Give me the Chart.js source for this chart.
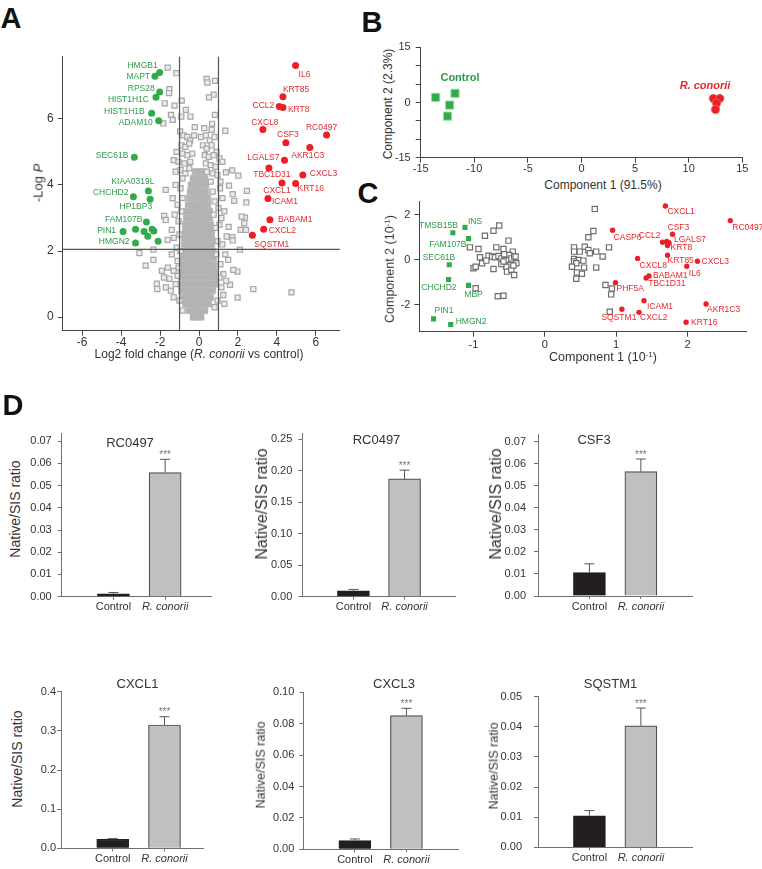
<!DOCTYPE html>
<html lang="en">
<head>
<meta charset="UTF-8" />
<title>R. conorii proteomics figure</title>
<script src="https://cdn.jsdelivr.net/npm/chart.js"></script>
<style>
    * { box-sizing: border-box; margin: 0; padding: 0; }
    body {
        width: 762px;
        height: 869px;
        position: relative;
        overflow: hidden;
        background: #fff;
        color: #333;
        font-family: "Liberation Sans", Arial, Helvetica, sans-serif;
    }
    canvas { position: absolute; }
    .t {
        position: absolute;
        transform: translate(-50%, -50%);
        white-space: nowrap;
        line-height: 1;
    }
    .rot { transform: translate(-50%, -50%) rotate(-90deg); }
    .panel { font-size: 29px; font-weight: bold; color: #111; }
    sup { font-size: 0.65em; vertical-align: 0.45em; }
</style>
</head>
<body>
<script>
// ---------- data: panel A (volcano) ----------
const upNames = ['IL6', 'KRT85', 'CCL2', 'KRT8', 'CXCL8', 'RC0497', 'CSF3', 'AKR1C3', 'LGALS7',
                 'TBC1D31', 'CXCL3', 'CXCL1', 'KRT16', 'ICAM1', 'BABAM1', 'CXCL2', 'SQSTM1'];
const upFold = [4.96, 4.31, 4.12, 4.31, 3.28, 6.55, 4.46, 5.69, 4.39, 3.59, 5.33, 4.26, 4.96, 3.54, 3.64, 3.32, 2.74];
const upLogP = [7.61, 6.67, 6.37, 6.34, 5.68, 5.51, 5.28, 5.13, 4.75, 4.51, 4.30, 4.06, 4.04, 3.59, 2.95, 2.66, 2.48];

const downNames = ['HMGB1', 'MAPT', 'RPS28', 'HIST1H1C', 'HIST1H1B', 'ADAM10', 'SEC61B', 'KIAA0319L',
                   'CHCHD2', 'HP1BP3', 'FAM107B', 'PIN1', 'HMGN2', '', '', '', '', '', ''];
const downFold = [-2.02, -2.26, -2.02, -2.21, -2.43, -2.07, -3.32, -2.60, -3.37, -2.51, -2.70, -3.90, -3.26,
                  -3.26, -2.82, -2.41, -2.32, -2.63, -2.10];
const downLogP = [7.40, 7.29, 6.81, 6.65, 6.17, 5.94, 4.84, 3.82, 3.64, 3.57, 2.88, 2.59, 2.24,
                  2.66, 2.59, 2.66, 2.61, 2.45, 2.30];

// dense centre of the cloud: [logP, [fold changes]]
const grayCoreRows = [
    [0.0, [-0.3, -0.1, 0.1]],
    [0.2, [-0.5, -0.3, -0.1, 0.1, 0.3]],
    [0.4, [-0.7, -0.5, -0.3, -0.1, 0.1, 0.3, 0.5]],
    [0.6, [-0.8, -0.6, -0.4, -0.2, 0.0, 0.2, 0.4, 0.6]],
    [0.8, [-0.9, -0.7, -0.5, -0.3, -0.1, 0.1, 0.3, 0.5, 0.7]],
    [1.0, [-0.95, -0.75, -0.55, -0.35, -0.15, 0.05, 0.25, 0.45, 0.65, 0.85]],
    [1.2, [-0.9, -0.7, -0.5, -0.3, -0.1, 0.1, 0.3, 0.5, 0.7, 0.85]],
    [1.4, [-0.9, -0.7, -0.5, -0.3, -0.1, 0.1, 0.3, 0.5, 0.7, 0.8]],
    [1.6, [-0.85, -0.65, -0.45, -0.25, -0.05, 0.15, 0.35, 0.55, 0.75]],
    [1.8, [-0.8, -0.6, -0.4, -0.2, 0.0, 0.2, 0.4, 0.6, 0.75]],
    [2.0, [-0.8, -0.6, -0.4, -0.2, 0.0, 0.2, 0.4, 0.6, 0.7]],
    [2.2, [-0.75, -0.55, -0.35, -0.15, 0.05, 0.25, 0.45, 0.65]],
    [2.4, [-0.75, -0.55, -0.35, -0.15, 0.05, 0.25, 0.45, 0.65]],
    [2.6, [-0.7, -0.5, -0.3, -0.1, 0.1, 0.3, 0.5, 0.65]],
    [2.8, [-0.7, -0.5, -0.3, -0.1, 0.1, 0.3, 0.5, 0.6]],
    [3.0, [-0.65, -0.45, -0.25, -0.05, 0.15, 0.35, 0.55]],
    [3.2, [-0.6, -0.4, -0.2, 0.0, 0.2, 0.4, 0.55]],
    [3.4, [-0.55, -0.35, -0.15, 0.05, 0.25, 0.45]],
    [3.6, [-0.5, -0.3, -0.1, 0.1, 0.3, 0.45]],
    [3.8, [-0.45, -0.25, -0.05, 0.15, 0.35]],
    [4.0, [-0.4, -0.2, 0.0, 0.2, 0.35]],
    [4.2, [-0.3, -0.1, 0.1, 0.3]],
    [4.4, [-0.2, 0.0, 0.2]]
];
// scattered proteins around the cloud: [fold, logP]
const grayOuter = [
    [-1.61, 7.55], [-1.16, 7.38], [0.39, 7.21], [0.82, 7.15], [0.43, 7.10], [-1.52, 6.90], [-1.54, 6.78],
    [0.75, 6.73], [0.51, 6.65], [-0.89, 6.55], [-1.76, 6.47], [-1.26, 6.40], [-0.68, 6.27], [-1.44, 6.12],
    [-0.91, 6.07], [0.82, 6.12], [-0.44, 6.07], [-1.83, 5.86], [-1.35, 5.97], [0.67, 5.85], [-0.22, 5.75],
    [0.27, 5.72], [1.35, 5.64], [0.65, 5.67], [-0.97, 5.62],
    [-0.8, 5.5], [-0.6, 5.45], [-0.45, 5.35], [-0.25, 5.5], [0.1, 5.45], [0.35, 5.5], [0.55, 5.35], [0.8, 5.45],
    [-0.9, 5.2], [-0.7, 5.15], [-0.5, 5.25], [0.2, 5.2], [0.4, 5.1], [0.65, 5.2], [0.9, 5.0], [-1.15, 5.0],
    [-0.85, 4.95], [-0.6, 4.9], [-0.35, 4.95], [0.3, 4.9], [0.5, 4.85], [0.75, 4.9], [1.05, 4.8], [1.2, 4.7],
    [-1.3, 4.75], [-1.05, 4.7], [-0.75, 4.65], [-0.45, 4.7], [0.35, 4.65], [0.6, 4.6], [0.85, 4.55],
    [-1.2, 4.4], [-0.95, 4.45], [-0.7, 4.35], [-0.5, 4.5], [0.4, 4.4], [0.7, 4.35], [0.95, 4.3],
    [1.38, 4.38], [1.71, 4.44], [2.02, 4.28], [1.54, 3.98], [1.08, 3.90], [2.46, 3.82], [1.73, 3.72],
    [1.81, 3.52], [2.43, 3.47], [2.36, 3.01], [2.19, 3.04], [2.32, 2.84], [1.52, 2.73], [2.14, 2.64],
    [2.41, 2.64], [1.42, 2.44], [1.71, 2.42], [1.73, 2.32], [2.10, 2.04], [1.50, 1.73], [1.97, 1.38],
    [1.76, 1.43], [1.59, 0.98], [2.79, 0.85], [1.98, 0.59], [4.75, 0.75], [1.25, 0.67], [1.1, 4.1],
    [1.2, 3.6], [1.0, 3.3], [1.15, 3.0], [1.3, 3.2], [1.05, 2.8], [1.2, 2.2], [1.35, 1.9], [1.1, 1.6],
    [1.25, 1.3], [1.4, 1.1], [1.05, 1.2], [1.15, 0.9], [0.95, 0.5], [1.3, 0.4], [0.8, 0.3],
    [-3.06, 1.94], [-2.74, 1.56], [-2.34, 1.73], [-2.34, 2.04], [-2.17, 1.01], [-2.14, 0.85], [-1.91, 1.40],
    [-1.79, 3.06], [-1.71, 2.94], [-1.71, 3.85], [-1.40, 2.64], [-1.61, 2.34], [-1.52, 1.16], [-1.2, 4.0],
    [-1.35, 3.6], [-1.1, 3.4], [-1.25, 3.1], [-1.05, 2.9], [-1.3, 2.4], [-1.15, 2.1], [-1.4, 1.9],
    [-1.1, 1.7], [-1.6, 1.5], [-1.3, 1.4], [-1.2, 1.0], [-1.45, 0.8], [-1.7, 0.9], [-1.0, 0.5],
    [-1.3, 0.6], [-0.85, 0.2], [-1.1, 1.25], [-1.8, 1.2],
    [-0.85, 4.2], [-0.95, 3.9], [-0.85, 3.6], [-0.9, 3.2], [0.6, 4.1], [0.7, 3.8], [0.8, 3.5],
    [0.75, 3.1], [0.85, 2.7], [0.95, 2.3], [0.9, 1.9], [-1.0, 2.5], [-0.95, 2.0], [-1.05, 1.5]
];
const foldCutoffs = [-1, 1];
const pCutoff = 2.05;
const volcanoXTicks = [-6, -4, -2, 0, 2, 4, 6];
const volcanoYTicks = [0, 2, 4, 6];

// ---------- data: panel B (PCA, samples) ----------
const pcaControlX = [-13.6, -11.8, -12.3, -12.5];
const pcaControlY = [1.4, 2.5, -0.7, -3.7];
const pcaConoriiX = [12.3, 12.9, 12.6, 12.5];
const pcaConoriiY = [1.1, 1.1, -0.2, -1.9];
const pcaXTicks = [-15, -10, -5, 0, 5, 10, 15];
const pcaYTicks = [-15, -10, -5, 0, 5, 10, 15];
const pcaYLabelled = [-15, 0, 15];

// ---------- data: panel C (loadings) ----------
const loadDownNames = ['TMSB15B', 'INS', 'FAM107B', 'SEC61B', 'CHCHD2', 'MBP', 'PIN1', 'HMGN2'];
const loadDownX = [-1.29, -1.12, -1.07, -1.34, -1.35, -1.07, -1.56, -1.32];
const loadDownY = [1.21, 1.45, 0.95, -0.21, -0.87, -1.13, -2.62, -2.87];
const loadUpNames = ['CXCL1', 'RC0497', 'CASP6', 'CSF3', 'CCL2', '', 'LGALS7', 'KRT8', 'KRT85', 'CXCL3',
                     'IL6', 'CXCL8', 'BABAM1', 'TBC1D31', 'PHF5A', 'ICAM1', 'AKR1C3', 'SQSTM1', 'CXCL2', 'KRT16'];
const loadUpX = [1.69, 2.60, 0.95, 1.79, 1.65, 1.71, 1.74, 1.72, 1.72, 2.14,
                 1.99, 1.30, 1.46, 1.42, 0.99, 1.39, 2.26, 1.08, 1.32, 1.98];
const loadUpY = [2.40, 1.75, 1.32, 1.14, 0.79, 0.82, 0.77, 0.64, 0.21, -0.06,
                 -0.28, 0.07, -0.71, -0.80, -1.01, -1.81, -1.96, -2.19, -2.33, -2.77];
const loadGray = [
    [-1.05, 0.56], [-0.93, 0.49], [-0.84, 1.08], [-0.72, 1.30], [-0.64, 1.53], [-0.51, 0.86], [-0.91, 0.12],
    [-0.79, 0.19], [-0.68, 0.56], [-0.58, 0.49], [-0.45, 0.37], [-1.00, -0.37], [-0.97, -0.30], [-0.88, -0.15],
    [-0.82, -0.03], [-0.74, 0.15], [-0.70, 0.12], [-0.65, 0.18], [-0.61, 0.07], [-0.56, 0.15], [-0.54, 0.00],
    [-0.50, 0.22], [-0.47, 0.07], [-0.43, 0.15], [-0.41, 0.15], [-0.40, -0.15], [-0.49, -0.22], [-0.54, -0.30],
    [-0.53, -0.52], [-0.47, -0.44], [-0.43, -0.67], [-0.72, -0.40], [-0.61, -0.18], [-0.58, -0.07],
    [-0.97, -1.26], [-0.66, -1.61], [-0.58, -1.59], [-0.44, -0.25], [-0.57, 0.25],
    [0.70, 2.27], [0.68, 1.29], [0.61, 1.01], [0.41, 0.56], [0.41, 0.37], [0.56, 0.59], [0.61, 0.44],
    [0.72, 0.37], [0.90, 0.56], [0.81, 0.15], [0.41, 0.04], [0.47, 0.00], [0.54, -0.03], [0.41, -0.07],
    [0.44, -0.15], [0.38, -0.30], [0.55, -0.34], [0.72, -0.34], [0.45, -0.56], [0.52, -0.61], [0.44, -0.84],
    [0.85, -1.11], [0.94, -1.27], [0.93, -1.53], [0.91, -2.30], [0.49, 0.37], [0.63, 0.30]
];
const loadXTicks = [-1, 0, 1, 2];
const loadYTicks = [-2, 0, 2];

// ---------- data: panel D (targeted quantification) ----------
const dGenes = ['RC0497', 'RC0497', 'CSF3', 'CXCL1', 'CXCL3', 'SQSTM1'];
const dCategories = ['Control', 'R. conorii'];
const dControl = [0.0013, 0.0095, 0.0106, 0.023, 0.0055, 0.0105];
const dControlErr = [0.0006, 0.0021, 0.0040, 0.0017, 0.0011, 0.0017];
const dConorii = [0.0558, 0.187, 0.0565, 0.315, 0.0851, 0.0403];
const dConoriiErr = [0.0060, 0.014, 0.0057, 0.021, 0.0047, 0.0059];
const dSignif = ['***', '***', '***', '***', '***', '***'];
const dYTicks = [
    [0, 0.01, 0.02, 0.03, 0.04, 0.05, 0.06, 0.07],
    [0, 0.05, 0.10, 0.15, 0.20, 0.25],
    [0, 0.01, 0.02, 0.03, 0.04, 0.05, 0.06, 0.07],
    [0, 0.1, 0.2, 0.3, 0.4],
    [0, 0.02, 0.04, 0.06, 0.08, 0.10],
    [0, 0.01, 0.02, 0.03, 0.04, 0.05]
];
const dDecimals = [2, 2, 2, 1, 2, 2];
const dYMax = [0.0735, 0.2595, 0.0733, 0.4, 0.10, 0.05];

// ---------- look ----------
const FONT = '"Liberation Sans", Arial, Helvetica, sans-serif';
const RED = '#ec1f26';
const GREEN = '#2fab4a';
const RED_TXT = '#e8262d';
const GREEN_TXT = '#2a9b47';
Chart.defaults.font.family = FONT;
Chart.defaults.color = '#333';

// label offsets in px from the point: [dx, dy, align]
const upLabelPos = [[3, 9, 'left'], [0, -7, 'left'], [-5, -1, 'right'], [5, 2, 'left'], [2, -7, 'center'],
    [-5, -7, 'center'], [2, -8, 'center'], [-2, 8, 'center'], [-5, -2, 'right'], [3, 7, 'center'],
    [7, -1, 'left'], [-5, 8, 'center'], [2, 5, 'left'], [4, 3, 'left'], [8, 0, 'left'], [5, 1, 'left'], [2, 9, 'left']];
const downLabelPos = [[-2, -7, 'right'], [-5, 0, 'right'], [-5, -3, 'right'], [-7, 2, 'right'], [-7, -2, 'right'],
    [-6, 2, 'right'], [-6, -2, 'right'], [6, -9, 'right'], [-5, -4, 'right'], [2, 8, 'right'], [-4, -2, 'right'],
    [-7, -1, 'right'], [-6, -1, 'right'], null, null, null, null, null, null];
const loadDownLabelPos = [[5, -7, 'right'], [3, -6, 'left'], [-2, 6, 'right'], [6, -7, 'right'], [8, 8, 'right'],
    [5, 9, 'center'], [1, -8, 'left'], [5, -3, 'left']];
const loadUpLabelPos = [[2, 6, 'left'], [2, 7, 'left'], [1, 7, 'left'], [-5, -7, 'left'], [-2, -7, 'right'], null,
    [5, -3, 'left'], [3, 2, 'left'], [0, 5, 'left'], [4, 0, 'left'], [2, 7, 'left'], [2, 7, 'left'], [4, 0, 'left'],
    [2, 6, 'left'], [1, 6, 'left'], [3, 6, 'left'], [1, 6, 'left'], [-3, 8, 'center'], [1, 5, 'left'], [5, 0, 'left']];

// ---------- helpers ----------
function addCanvas(left, top, w, h) {
    const c = document.createElement('canvas');
    c.width = w; c.height = h;
    c.style.left = left + 'px'; c.style.top = top + 'px';
    c.style.width = w + 'px'; c.style.height = h + 'px';
    document.body.appendChild(c);
    return c;
}

function addText(x, y, html, css, rotated) {
    const d = document.createElement('div');
    d.className = 't' + (rotated ? ' rot' : '');
    d.style.left = x + 'px';
    d.style.top = y + 'px';
    d.style.cssText += css || '';
    d.innerHTML = html;
    document.body.appendChild(d);
    return d;
}

function linAxis(o) {
    return {
        type: 'linear', min: o.min, max: o.max, offset: false,
        afterBuildTicks: s => { s.ticks = o.ticks.map(v => ({ value: v })); },
        afterFit: s => { if (s.isHorizontal()) s.height = o.fit; else s.width = o.fit; },
        ticks: {
            autoSkip: false, maxRotation: 0, padding: o.pad, color: '#333',
            font: o.font || { size: o.size },
            callback: o.fmt || (v => String(v))
        },
        grid: { drawOnChartArea: false, drawTicks: true, tickLength: o.tickLen, color: o.color, offset: false },
        border: { display: true, color: o.color, width: 1 }
    };
}

function baseOptions(padTop, padRight) {
    return {
        responsive: false, animation: false, devicePixelRatio: 1, events: [],
        layout: { padding: { top: padTop, right: padRight, left: 0, bottom: 0 } },
        plugins: { legend: { display: false }, tooltip: { enabled: false } }
    };
}

const pointLabels = {
    id: 'pointLabels',
    afterDatasetsDraw(chart) {
        const ctx = chart.ctx;
        chart.data.datasets.forEach((ds, i) => {
            if (!ds.names) return;
            const meta = chart.getDatasetMeta(i);
            ctx.save();
            ctx.font = ds.labelFont;
            ctx.fillStyle = ds.labelColor;
            ctx.textBaseline = 'middle';
            meta.data.forEach((pt, j) => {
                const pos = ds.labelPos[j];
                if (!ds.names[j] || !pos) return;
                ctx.textAlign = pos[2];
                ctx.fillText(ds.names[j], pt.x + pos[0], pt.y + pos[1]);
            });
            ctx.restore();
        });
    }
};

const volcanoLines = {
    id: 'volcanoLines',
    afterDatasetsDraw(chart) {
        const { ctx, chartArea: a, scales: { x, y } } = chart;
        ctx.save();
        ctx.strokeStyle = '#555';
        ctx.lineWidth = 1.2;
        ctx.beginPath();
        foldCutoffs.forEach(v => {
            const px = x.getPixelForValue(v);
            ctx.moveTo(px, a.top); ctx.lineTo(px, a.bottom);
        });
        const py = y.getPixelForValue(pCutoff);
        ctx.moveTo(a.left, py); ctx.lineTo(a.right, py);
        ctx.stroke();
        ctx.restore();
    }
};

const errorBars = {
    id: 'errorBars',
    afterDatasetsDraw(chart) {
        const ds = chart.data.datasets[0];
        const meta = chart.getDatasetMeta(0);
        const y = chart.scales.y;
        const ctx = chart.ctx;
        ctx.save();
        ctx.strokeStyle = '#555';
        ctx.lineWidth = 1;
        meta.data.forEach((bar, j) => {
            const top = y.getPixelForValue(ds.data[j].y + ds.errors[j]);
            ctx.beginPath();
            ctx.moveTo(bar.x, bar.y); ctx.lineTo(bar.x, top);
            ctx.moveTo(bar.x - 5, top); ctx.lineTo(bar.x + 5, top);
            ctx.stroke();
            if (ds.stars[j]) {
                ctx.fillStyle = '#777';
                ctx.font = '10px ' + FONT;
                ctx.textAlign = 'center';
                ctx.textBaseline = 'alphabetic';
                ctx.fillText(ds.stars[j], bar.x, top - 1.5);
            }
        });
        ctx.restore();
    }
};

// ---------- panel A: volcano plot ----------
new Chart(addCanvas(0, 40, 345, 312), {
    type: 'scatter',
    data: {
        datasets: [
            {
                data: upFold.map((x, i) => ({ x, y: upLogP[i] })),
                names: upNames, labelPos: upLabelPos, labelColor: RED_TXT, labelFont: '8.5px ' + FONT,
                pointStyle: 'circle', pointRadius: 3.5, pointBackgroundColor: RED, pointBorderWidth: 0
            },
            {
                data: downFold.map((x, i) => ({ x, y: downLogP[i] })),
                names: downNames, labelPos: downLabelPos, labelColor: GREEN_TXT, labelFont: '8.5px ' + FONT,
                pointStyle: 'circle', pointRadius: 3.5, pointBackgroundColor: GREEN, pointBorderWidth: 0
            },
            {
                data: grayOuter.map(p => ({ x: p[0], y: p[1] })),
                pointStyle: 'rect', pointRadius: 3.6, pointBackgroundColor: '#ececec',
                pointBorderColor: '#a6a6a6', pointBorderWidth: 1.2
            },
            {
                data: grayCoreRows.flatMap(([y, xs]) => xs.map(x => ({ x, y }))),
                pointStyle: 'rect', pointRadius: 4.4, pointBackgroundColor: '#b3b3b3',
                pointBorderColor: '#b3b3b3', pointBorderWidth: 0.5
            }
        ]
    },
    options: {
        ...baseOptions(16.7, 5),
        scales: {
            x: linAxis({ min: -7.0, max: 7.23, ticks: volcanoXTicks, fit: 21.3, size: 12, pad: 0, tickLen: 5, color: '#444' }),
            y: linAxis({ min: -0.41, max: 7.88, ticks: volcanoYTicks, fit: 62.7, size: 12, pad: 4, tickLen: 5, color: '#444' })
        }
    },
    plugins: [volcanoLines, pointLabels]
});

addText(11, 17.5, 'A').classList.add('panel');
addText(38, 183, '-Log <i>P</i>', 'font-size:13px;', true);
addText(199, 354, 'Log2 fold change (<i>R. conorii</i> vs control)', 'font-size:12px;');

// ---------- panel B: sample PCA ----------
new Chart(addCanvas(395, 35, 362, 143), {
    type: 'scatter',
    data: {
        datasets: [
            {
                data: pcaConoriiX.map((x, i) => ({ x, y: pcaConoriiY[i] })),
                pointStyle: 'circle', pointRadius: 4.2, pointBackgroundColor: RED, pointBorderColor: '#f26a6f', pointBorderWidth: 0.8
            },
            {
                data: pcaControlX.map((x, i) => ({ x, y: pcaControlY[i] })),
                pointStyle: 'rect', pointRadius: 5.8, pointBackgroundColor: GREEN, pointBorderColor: '#9fd9a8', pointBorderWidth: 1
            }
        ]
    },
    options: {
        ...baseOptions(12.3, 14.7),
        scales: {
            x: linAxis({ min: -15, max: 15, ticks: pcaXTicks, fit: 20.3, size: 11, pad: 0, tickLen: 5, color: '#444' }),
            y: linAxis({ min: -15, max: 15, ticks: pcaYTicks, fit: 25.7, size: 11, pad: 5, tickLen: 5, color: '#444',
                         fmt: v => pcaYLabelled.includes(v) ? String(v) : '' })
        }
    }
});

addText(372, 22, 'B').classList.add('panel');
addText(388, 104, 'Component 2 (2.3%)', 'font-size:12px;', true);
addText(603, 185, 'Component 1 (91.5%)', 'font-size:12px;');
addText(460, 77, 'Control', 'font-size:11px;font-weight:bold;color:' + GREEN_TXT + ';');
addText(705, 85, 'R. conorii', 'font-size:11px;font-weight:bold;font-style:italic;color:' + RED_TXT + ';');

// ---------- panel C: protein loadings ----------
new Chart(addCanvas(395, 190, 367, 162), {
    type: 'scatter',
    data: {
        datasets: [
            {
                data: loadUpX.map((x, i) => ({ x, y: loadUpY[i] })),
                names: loadUpNames, labelPos: loadUpLabelPos, labelColor: RED_TXT, labelFont: '8.5px ' + FONT,
                pointStyle: 'circle', pointRadius: 2.7, pointBackgroundColor: RED, pointBorderWidth: 0
            },
            {
                data: loadDownX.map((x, i) => ({ x, y: loadDownY[i] })),
                names: loadDownNames, labelPos: loadDownLabelPos, labelColor: GREEN_TXT, labelFont: '8.5px ' + FONT,
                pointStyle: 'rect', pointRadius: 3.6, pointBackgroundColor: GREEN, pointBorderWidth: 0
            },
            {
                data: loadGray.map(p => ({ x: p[0], y: p[1] })),
                pointStyle: 'rect', pointRadius: 3.7, pointBackgroundColor: '#ffffff',
                pointBorderColor: '#6d6d6d', pointBorderWidth: 1.2
            }
        ]
    },
    options: {
        ...baseOptions(11.7, 16),
        scales: {
            x: linAxis({ min: -1.76, max: 2.82, ticks: loadXTicks, fit: 20.3, size: 11, pad: 2, tickLen: 5, color: '#444' }),
            y: linAxis({ min: -3.19, max: 2.59, ticks: loadYTicks, fit: 24.3, size: 11, pad: 4, tickLen: 5, color: '#444' })
        }
    },
    plugins: [pointLabels]
});

addText(368, 193, 'C').classList.add('panel');
addText(390, 269, 'Component 2 (10<sup>-1</sup>)', 'font-size:12.5px;', true);
addText(603, 357, 'Component 1 (10<sup>-1</sup>)', 'font-size:12.5px;');

// ---------- panel D: bar charts ----------
// canvas left, top, width, height, y-axis width, x-axis height, pad top, pad right, x max, y tick padding
const dBoxes = [
    [25, 420, 200, 192, 36.7, 15.3, 13.3, 13.3, 2.9, 6],
    [265, 420, 205, 192, 37.3, 15.3, 13.3, 14.3, 3.0, 6],
    [500, 420, 207, 192, 38, 16, 12.7, 14.7, 3.0, 8],
    [25, 678, 193, 188, 36, 17.7, 13.7, 14.7, 2.75, 1],
    [266, 678, 206, 188, 37.3, 16.7, 14.3, 14, 3.0, 5],
    [500, 678, 207, 188, 38, 17, 14.3, 14.7, 3.0, 12]
];
// title centre, y-title centre, y-title font size
const dTexts = [
    [130, 441.7, 15, 509, 14],
    [376.5, 439, 262, 504, 16],
    [594, 439.3, 496, 504, 16],
    [137.5, 683.3, 17, 759, 14],
    [394, 683.3, 261, 765, 12.5],
    [610.5, 683.3, 494, 766, 12.5]
];

dGenes.forEach((gene, i) => {
    const b = dBoxes[i];
    new Chart(addCanvas(b[0], b[1], b[2], b[3]), {
        type: 'bar',
        data: {
            datasets: [{
                data: [{ x: 1, y: dControl[i] }, { x: 2, y: dConorii[i] }],
                errors: [dControlErr[i], dConoriiErr[i]],
                stars: ['', dSignif[i]],
                backgroundColor: ['#231f20', '#c0c0c0'],
                borderColor: ['#231f20', '#4f4f4f'],
                borderWidth: 1.2,
                barThickness: 32
            }]
        },
        options: {
            ...baseOptions(b[6], b[7]),
            scales: {
                x: linAxis({
                    min: 0, max: b[8], ticks: [1, 2], fit: b[5], pad: 1, tickLen: 3, color: '#707070',
                    font: c => ({ size: 11, style: c.index === 1 ? 'italic' : 'normal' }),
                    fmt: v => dCategories[v - 1]
                }),
                y: linAxis({
                    min: 0, max: dYMax[i], ticks: dYTicks[i], fit: b[4], size: 11, pad: b[9], tickLen: 4,
                    color: '#707070', fmt: v => v.toFixed(dDecimals[i])
                })
            }
        },
        plugins: [errorBars]
    });
    const t = dTexts[i];
    addText(t[0], t[1], gene, 'font-size:13px;');
    addText(t[2], t[3], 'Native/SIS ratio', 'font-size:' + t[4] + 'px;', true);
});

addText(13, 405, 'D').classList.add('panel');
</script>
</body>
</html>
